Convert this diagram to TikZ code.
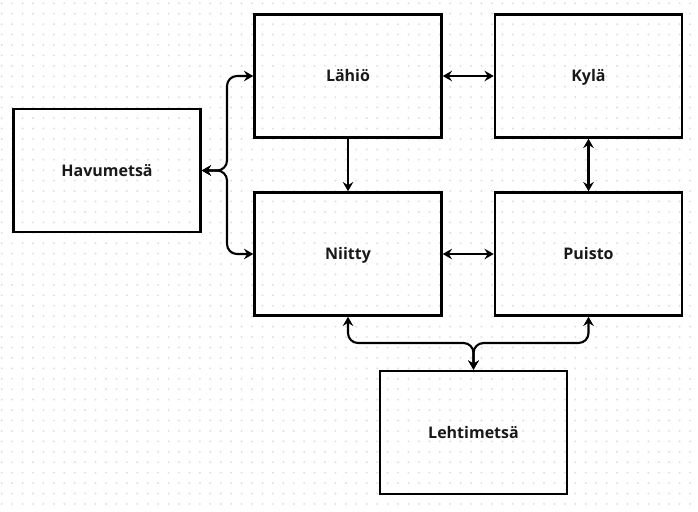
\documentclass[tikz,border=0pt]{standalone}
\usepackage{fontspec}
\setmainfont{Open Sans}
\usetikzlibrary{arrows.meta}
\tikzset{
  box/.style={draw=black, line width=1.9pt, minimum width=140.25pt, minimum height=92.25pt, inner sep=0pt, text height=8.6pt, text depth=0pt, font=\fontsize{12}{14}\selectfont\bfseries, text=black!90},
  conn/.style={draw=black, line width=1.6pt, rounded corners=7.5pt},
  tip/.style={arrows={-Stealth[length=7pt, width=8pt, inset=2.5pt]}},
  tips/.style={arrows={Stealth[length=7pt, width=8pt, inset=2.5pt]-Stealth[length=7pt, width=8pt, inset=2.5pt]}}
}
\begin{document}
\begin{tikzpicture}[x=0.75pt, y=-0.75pt]
\useasboundingbox (0,0) rectangle (698,511);
\fill[white] (0,0) rectangle (698,511);
\foreach \i in {0,...,66} {
  \foreach \j in {0,...,48} {
    \fill[black!13] (1.7+10.43*\i, 3.3+10.43*\j) circle (0.8pt);
  }
}
\node[box] (hav) at (107,170.5) {Havumetsä};
\node[box] (lahio) at (348,76) {Lähiö};
\node[box] (kyla) at (588.5,76) {Kylä};
\node[box] (niitty) at (348,254) {Niitty};
\node[box] (puisto) at (588.5,254) {Puisto};
\node[box] (leht) at (473.5,432.5) {Lehtimetsä};
\coordinate (hj) at (227,170.5);
\coordinate (lj) at (473.5,343);
\draw[conn, tips] (hav.east) -- (hj) |- (lahio.west);
\draw[conn, tips] (hav.east) -- (hj) |- (niitty.west);
\draw[conn, tips] (lahio.east) -- (kyla.west);
\draw[conn, tip] (lahio.south) -- (niitty.north);
\draw[conn, tips] (kyla.south) -- (puisto.north);
\draw[conn, tips] (niitty.east) -- (puisto.west);
\draw[conn, tips] (niitty.south) |- (lj) -- (leht.north);
\draw[conn, tips] (puisto.south) |- (lj) -- (leht.north);
\end{tikzpicture}
\end{document}
